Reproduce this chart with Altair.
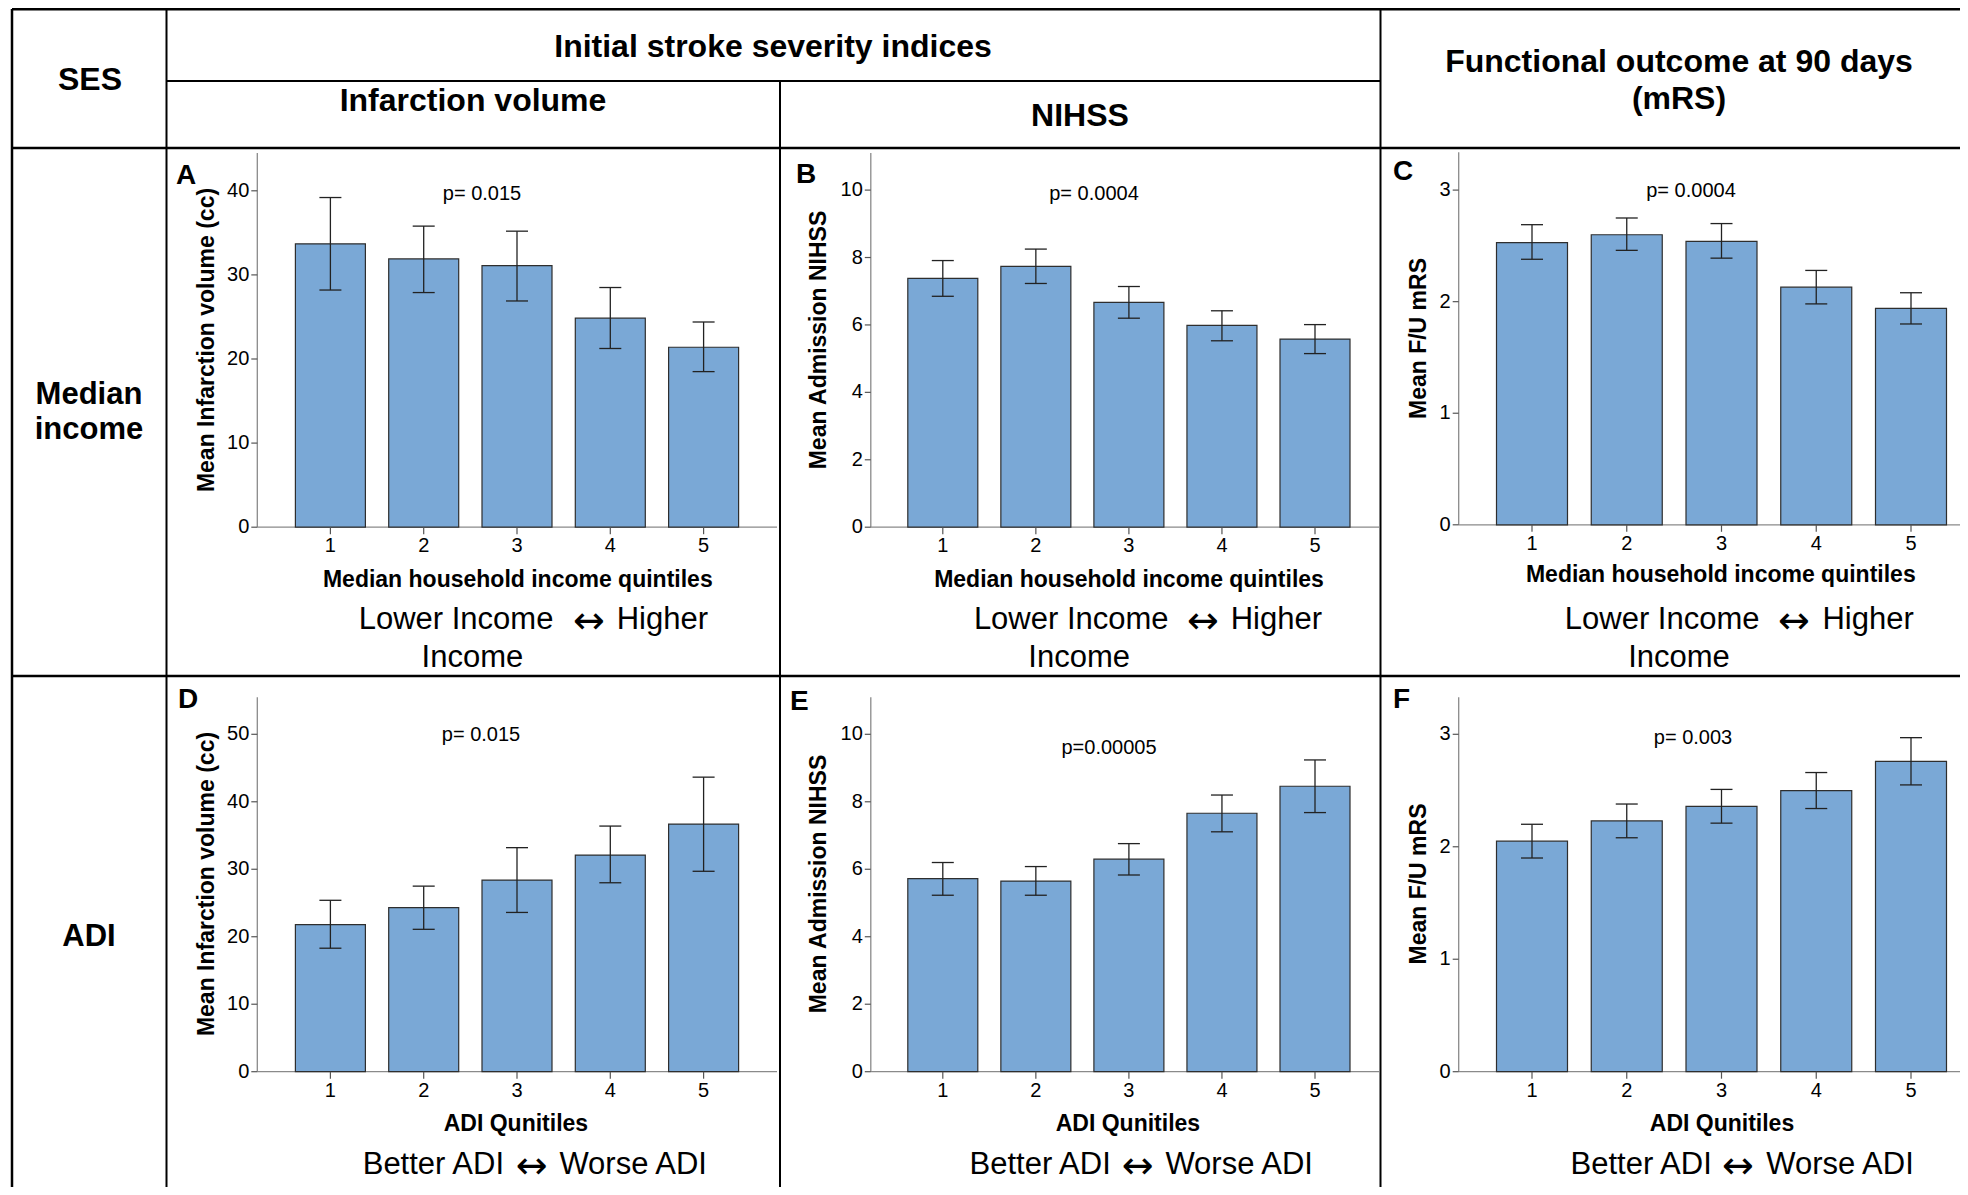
import altair as alt
import pandas as pd

# ---------------- data ----------------
quintiles = [1, 2, 3, 4, 5]

# A: infarction volume by income quintile
inf_income_mean = [33.7, 31.9, 31.1, 24.85, 21.4]
inf_income_lo = [28.2, 27.9, 26.9, 21.25, 18.5]
inf_income_hi = [39.2, 35.8, 35.2, 28.5, 24.4]
# B: NIHSS by income quintile
nihss_income_mean = [7.38, 7.74, 6.67, 5.99, 5.58]
nihss_income_lo = [6.85, 7.23, 6.20, 5.53, 5.15]
nihss_income_hi = [7.91, 8.25, 7.14, 6.42, 6.01]
# C: mRS by income quintile
mrs_income_mean = [2.53, 2.60, 2.54, 2.13, 1.94]
mrs_income_lo = [2.38, 2.46, 2.39, 1.98, 1.80]
mrs_income_hi = [2.69, 2.75, 2.70, 2.28, 2.08]
# D: infarction volume by ADI quintile
inf_adi_mean = [21.8, 24.3, 28.4, 32.1, 36.7]
inf_adi_lo = [18.3, 21.1, 23.6, 28.0, 29.7]
inf_adi_hi = [25.4, 27.5, 33.2, 36.4, 43.65]
# E: NIHSS by ADI quintile
nihss_adi_mean = [5.72, 5.65, 6.30, 7.66, 8.46]
nihss_adi_lo = [5.23, 5.23, 5.83, 7.11, 7.68]
nihss_adi_hi = [6.20, 6.08, 6.76, 8.20, 9.24]
# F: mRS by ADI quintile
mrs_adi_mean = [2.05, 2.23, 2.36, 2.50, 2.76]
mrs_adi_lo = [1.90, 2.08, 2.21, 2.34, 2.55]
mrs_adi_hi = [2.20, 2.38, 2.51, 2.66, 2.97]

ticks_inf_income = [0, 10, 20, 30, 40]
ticks_nihss = [0, 2, 4, 6, 8, 10]
ticks_mrs = [0, 1, 2, 3]
ticks_inf_adi = [0, 10, 20, 30, 40, 50]

p_values = ["p= 0.015", "p= 0.0004", "p= 0.0004", "p= 0.015", "p=0.00005", "p= 0.003"]
panel_letters = ["A", "B", "C", "D", "E", "F"]
y_titles = ["Mean Infarction volume (cc)", "Mean Admission NIHSS", "Mean F/U mRS"]
x_title_income = "Median household income quintiles"
x_title_adi = "ADI Qunitiles"
dir_income = ["Lower Income", "\u2194", "Higher", "Income"]
dir_adi = ["Better ADI", "\u2194", "Worse ADI"]

# ---------------- layout ----------------
OFF = 8
W, H = 1952, 1179
FONT = "Liberation Sans"
BAR_FILL = "#7AA8D6"


def px(v):
    return v - OFF


one = pd.DataFrame({"k": [0]})
layers = []


def txt(t, x, y, size, bold=False, angle=None, align="center", font=FONT):
    kw = dict(x=px(x), y=px(y), fontSize=size, font=font,
              fontWeight="bold" if bold else "normal", align=align,
              baseline="middle", color="black")
    if angle is not None:
        kw["angle"] = angle
    layers.append(alt.Chart(one).mark_text(**kw).encode(text=alt.value(t)))


def hline(y, x1, x2, w):
    layers.append(alt.Chart(one).mark_rule(color="black", strokeWidth=w).encode(
        x=alt.value(px(x1)), x2=alt.value(px(x2)), y=alt.value(px(y))))


def vline(x, y1, y2, w):
    layers.append(alt.Chart(one).mark_rule(color="black", strokeWidth=w).encode(
        x=alt.value(px(x)), y=alt.value(px(y1)), y2=alt.value(px(y2))))


def panel(means, lows, highs, ticks, y_top, x_rng, y_rng, axis_left, axis_right, half_bar):
    df = pd.DataFrame({"q": quintiles, "mean": means, "lo": lows, "hi": highs})
    xs = alt.Scale(domain=[1, 5], range=[px(x_rng[0]), px(x_rng[1])])
    ys = alt.Scale(domain=[0, ticks[-1]], range=[px(y_rng[0]), px(y_rng[1])])
    zero = y_rng[0]
    ax = pd.DataFrame({"v0": [0], "v1": [y_top]})
    tk = pd.DataFrame({"t": ticks})
    # axes
    layers.append(alt.Chart(ax).mark_rule(color="#8a8a8a", strokeWidth=1.3).encode(
        x=alt.value(px(axis_left)),
        y=alt.Y("v0:Q", scale=ys, axis=None), y2="v1:Q"))
    layers.append(alt.Chart(ax).mark_rule(color="#8a8a8a", strokeWidth=1.3).encode(
        x=alt.value(px(axis_left)), x2=alt.value(px(axis_right)),
        y=alt.Y("v0:Q", scale=ys, axis=None)))
    layers.append(alt.Chart(tk).mark_rule(color="#555555", strokeWidth=1.2).encode(
        x=alt.value(px(axis_left - 6)), x2=alt.value(px(axis_left)),
        y=alt.Y("t:Q", scale=ys, axis=None)))
    layers.append(alt.Chart(tk).mark_text(font=FONT, fontSize=20, align="right",
                                          baseline="middle", color="black").encode(
        x=alt.value(px(axis_left - 8)),
        y=alt.Y("t:Q", scale=ys, axis=None), text="t:Q"))
    # bars
    layers.append(alt.Chart(df).mark_rect(fill=BAR_FILL, stroke="#2e2e2e", strokeWidth=1.2,
                                          xOffset=-half_bar, x2Offset=half_bar).encode(
        x=alt.X("q:Q", scale=xs, axis=None), x2="q:Q",
        y=alt.Y("mean:Q", scale=ys, axis=None), y2=alt.datum(0)))
    # x ticks and labels
    layers.append(alt.Chart(df).mark_rule(color="#555555", strokeWidth=1.2).encode(
        x=alt.X("q:Q", scale=xs, axis=None),
        y=alt.value(px(zero)), y2=alt.value(px(zero + 7))))
    layers.append(alt.Chart(df).mark_text(font=FONT, fontSize=20, align="center",
                                          baseline="middle", color="black").encode(
        x=alt.X("q:Q", scale=xs, axis=None), y=alt.value(px(zero + 19)), text="q:N"))
    # error bars
    layers.append(alt.Chart(df).mark_rule(color="#222222", strokeWidth=1.3).encode(
        x=alt.X("q:Q", scale=xs, axis=None),
        y=alt.Y("lo:Q", scale=ys, axis=None), y2="hi:Q"))
    for f in ("lo", "hi"):
        layers.append(alt.Chart(df).mark_rule(color="#222222", strokeWidth=1.3,
                                              xOffset=-11, x2Offset=11).encode(
            x=alt.X("q:Q", scale=xs, axis=None), x2="q:Q",
            y=alt.Y(f + ":Q", scale=ys, axis=None)))


# column geometry (page px)
colA = dict(x_rng=(330.4, 703.6), axis_left=257.3, axis_right=777, half_bar=35)
colB = dict(x_rng=(942.8, 1315.0), axis_left=870.8, axis_right=1379, half_bar=35)
colC = dict(x_rng=(1532, 1911), axis_left=1458.7, axis_right=1968, half_bar=35.5)

panel(inf_income_mean, inf_income_lo, inf_income_hi, ticks_inf_income, 44.5,
      y_rng=(527.2, 190.8), **colA)
panel(nihss_income_mean, nihss_income_lo, nihss_income_hi, ticks_nihss, 11.1,
      y_rng=(527.2, 190.1), **colB)
panel(mrs_income_mean, mrs_income_lo, mrs_income_hi, ticks_mrs, 3.34,
      y_rng=(524.8, 190.1), **colC)
panel(inf_adi_mean, inf_adi_lo, inf_adi_hi, ticks_inf_adi, 55.5,
      y_rng=(1071.7, 734.3), **colA)
panel(nihss_adi_mean, nihss_adi_lo, nihss_adi_hi, ticks_nihss, 11.1,
      y_rng=(1071.7, 734.3), **colB)
panel(mrs_adi_mean, mrs_adi_lo, mrs_adi_hi, ticks_mrs, 3.33,
      y_rng=(1071.7, 734.3), **colC)

# ---------------- table grid ----------------
hline(9, 12, 1968, 3)
hline(81, 166.5, 1380.5, 2)
hline(148, 12, 1968, 2.5)
hline(676, 12, 1968, 2.5)
vline(12, 9, 1195, 2.5)
vline(166.5, 9, 1195, 2)
vline(780, 81, 1195, 2)
vline(1380.5, 9, 1195, 2)

# ---------------- header texts ----------------
txt("SES", 90, 80, 32, bold=True)
txt("Initial stroke severity indices", 773, 47, 32, bold=True)
txt("Infarction volume", 473, 101, 32, bold=True)
txt("NIHSS", 1080, 116, 32, bold=True)
txt("Functional outcome at 90 days", 1679, 62, 32, bold=True)
txt("(mRS)", 1679, 99, 32, bold=True)
txt("Median", 89, 395, 31, bold=True)
txt("income", 89, 430, 31, bold=True)
txt("ADI", 89, 937, 31, bold=True)

# ---------------- panel annotations ----------------
letter_pos = [(176, 176), (796, 175), (1393, 172), (178, 700), (790, 702), (1393, 700)]
p_pos = [(482, 194), (1094, 194), (1691, 191), (481, 735), (1109, 748), (1693, 738)]
ytitle_pos = [(206.7, 340), (819.4, 340), (1419.4, 338.5),
              (206.7, 884), (819.4, 884), (1419.4, 884)]
xtitle_pos = [(517.8, 579.6), (1129, 579.6), (1720.8, 575.4),
              (515.9, 1123.6), (1127.9, 1123.6), (1722, 1123.6)]
for i in range(6):
    txt(panel_letters[i], letter_pos[i][0], letter_pos[i][1], 28, bold=True, align="left")
    txt(p_values[i], p_pos[i][0], p_pos[i][1], 20)
    txt(y_titles[i % 3], ytitle_pos[i][0], ytitle_pos[i][1], 23, bold=True, angle=270)
    txt(x_title_income if i < 3 else x_title_adi, xtitle_pos[i][0], xtitle_pos[i][1], 23, bold=True)

# direction captions: (left-part right edge, arrow centre, right-part left edge, 2nd-line centre)
inc_pos = [(553.4, 589, 616.7, 472.4), (1168.6, 1203, 1230.7, 1079.2), (1759.5, 1794, 1822.4, 1679)]
for (r, a, l, c2) in inc_pos:
    txt(dir_income[0], r, 620, 31, align="right")
    txt(dir_income[1], a, 622, 38, font="DejaVu Sans")
    txt(dir_income[2], l, 620, 31, align="left")
    txt(dir_income[3], c2, 658, 31)
adi_pos = [(504, 531.7, 559.4), (1110.8, 1137.7, 1165.4), (1711.8, 1738, 1766.2)]
for (r, a, l) in adi_pos:
    txt(dir_adi[0], r, 1165, 31, align="right")
    txt(dir_adi[1], a, 1167, 38, font="DejaVu Sans")
    txt(dir_adi[2], l, 1165, 31, align="left")

chart = alt.layer(*layers).resolve_scale(x="independent", y="independent").properties(
    width=W, height=H, autosize=alt.AutoSizeParams(type="none"), padding=0
).configure_view(stroke=None)

chart.save("out.html", embed_options={"renderer": "svg", "actions": False})
